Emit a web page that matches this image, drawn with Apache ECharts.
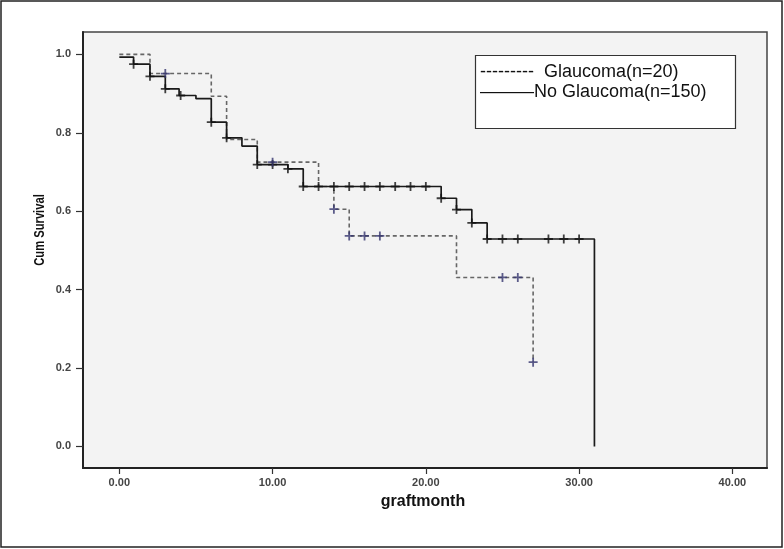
<!DOCTYPE html>
<html>
<head>
<meta charset="utf-8">
<script src="https://cdn.jsdelivr.net/npm/echarts@6.0.0/dist/echarts.min.js"></script>
<style>
  html, body { margin: 0; padding: 0; background: #ffffff; }
  #chart { width: 784px; height: 549px; }
</style>
</head>
<body>
<div id="chart"></div>
<script>
// ---- Data ----
var xTicks = [0, 10, 20, 30, 40];
var yTicks = [0, 0.2, 0.4, 0.6, 0.8, 1.0];

// No Glaucoma (n=150): step points (time, survival after step)
var noGlaucTimes = [0, 0.93, 2, 3, 3.9, 5, 6, 7, 8, 9, 11, 12, 21, 22, 23, 24, 31];
var noGlaucSurv  = [0.993, 0.975, 0.944, 0.912, 0.895, 0.887, 0.827, 0.787, 0.766, 0.719, 0.708, 0.663, 0.633, 0.604, 0.570, 0.529, 0.0];
// No Glaucoma censored marks
var noGlaucCensT = [0.93, 2, 3, 4, 6, 7, 9, 10, 11, 12, 13, 14, 15, 16, 17, 18, 19, 20, 21, 22, 23, 24, 25, 26, 28, 29, 30];
var noGlaucCensS = [0.975, 0.944, 0.912, 0.895, 0.827, 0.787, 0.719, 0.719, 0.708, 0.663, 0.663, 0.663, 0.663, 0.663, 0.663, 0.663, 0.663, 0.663, 0.633, 0.604, 0.570, 0.529, 0.529, 0.529, 0.529, 0.529, 0.529];

// Glaucoma (n=20)
var glaucTimes = [0, 2, 6, 7, 9, 13, 14, 15, 22, 27];
var glaucSurv  = [1.0, 0.951, 0.893, 0.783, 0.725, 0.663, 0.605, 0.537, 0.431, 0.215];
var glaucCensT = [3, 10, 14, 15, 16, 17, 25, 26, 27];
var glaucCensS = [0.951, 0.725, 0.605, 0.537, 0.537, 0.537, 0.431, 0.431, 0.215];

var legendLine1 = "---------  Glaucoma(n=20)";
var legendLine2 = "\u2014\u2014\u2014No Glaucoma(n=150)";
var xTitle = "graftmonth";
var yTitle = "Cum Survival";

function zip(a, b) { return a.map(function (v, i) { return [v, b[i]]; }); }

var plusPath = 'path://M4,0 H6 V4 H10 V6 H6 V10 H4 V6 H0 V4 H4 Z';
var fontFam = "'Liberation Sans', Arial, sans-serif";

var chart = echarts.init(document.getElementById('chart'), null, { renderer: 'canvas' });
chart.setOption({
  animation: false,
  backgroundColor: '#ffffff',
  grid: {
    left: 83, right: 17, top: 32, bottom: 81,
    show: true, backgroundColor: '#f3f3f3', borderColor: '#444', borderWidth: 1.5
  },
  xAxis: {
    type: 'value', min: -2.37, max: 42.26,
    splitLine: { show: false },
    axisLine: { show: true, onZero: false, lineStyle: { color: '#222', width: 2 } },
    axisTick: { show: true, length: 6, customValues: xTicks, lineStyle: { color: '#333', width: 1.2 } },
    axisLabel: {
      customValues: xTicks, margin: 9, color: '#444', fontSize: 11, fontWeight: 'bold', fontFamily: fontFam,
      formatter: function (v) { return v.toFixed(2); }
    }
  },
  yAxis: {
    type: 'value', min: -0.055, max: 1.057,
    splitLine: { show: false },
    axisLine: { show: true, onZero: false, lineStyle: { color: '#222', width: 2 } },
    axisTick: { show: true, length: 7, customValues: yTicks, lineStyle: { color: '#333', width: 1.2 } },
    axisLabel: {
      customValues: yTicks, margin: 12, color: '#444', fontSize: 11, fontWeight: 'bold', fontFamily: fontFam,
      formatter: function (v) { return v.toFixed(1); }
    }
  },
  series: [
    {
      name: 'No Glaucoma', type: 'line', step: 'end', symbol: 'none',
      data: zip(noGlaucTimes, noGlaucSurv),
      lineStyle: { color: '#1a1a1a', width: 1.7 }, z: 3
    },
    {
      name: 'Glaucoma', type: 'line', step: 'end', symbol: 'none',
      data: zip(glaucTimes, glaucSurv),
      lineStyle: { color: '#666', width: 1.6, type: [4, 3] }, z: 2
    },
    {
      name: 'No Glaucoma censored', type: 'scatter', symbol: plusPath, symbolSize: 9,
      data: zip(noGlaucCensT, noGlaucCensS),
      itemStyle: { color: '#111' }, z: 4
    },
    {
      name: 'Glaucoma censored', type: 'scatter', symbol: plusPath, symbolSize: 9,
      data: zip(glaucCensT, glaucCensS),
      itemStyle: { color: '#34346e' }, z: 4
    }
  ],
  graphic: [
    { type: 'rect', shape: { x: 1, y: 1, width: 781, height: 546 }, style: { fill: 'none', stroke: '#222', lineWidth: 1.5 }, z: 100 },
    { type: 'rect', shape: { x: 475.5, y: 55.5, width: 260, height: 73 }, style: { fill: '#ffffff', stroke: '#333', lineWidth: 1.2 }, z: 50 },
    { type: 'text', x: 480, y: 72, style: { text: legendLine1, fill: '#111', font: "18px 'Liberation Sans', Arial, sans-serif", textVerticalAlign: 'middle' }, z: 51 },
    { type: 'text', x: 480, y: 92, style: { text: legendLine2, fill: '#111', font: "18px 'Liberation Sans', Arial, sans-serif", textVerticalAlign: 'middle' }, z: 51 },
    { type: 'text', x: 423, y: 502, style: { text: xTitle, fill: '#111', font: "bold 16px 'Liberation Sans', Arial, sans-serif", textAlign: 'center', textVerticalAlign: 'middle' }, z: 51 },
    { type: 'text', x: 40, y: 230, rotation: Math.PI / 2, scaleX: 0.8, style: { text: yTitle, fill: '#111', font: "bold 14px 'Liberation Sans', Arial, sans-serif", textAlign: 'center', textVerticalAlign: 'middle' }, z: 51 }
  ]
});
</script>
</body>
</html>
